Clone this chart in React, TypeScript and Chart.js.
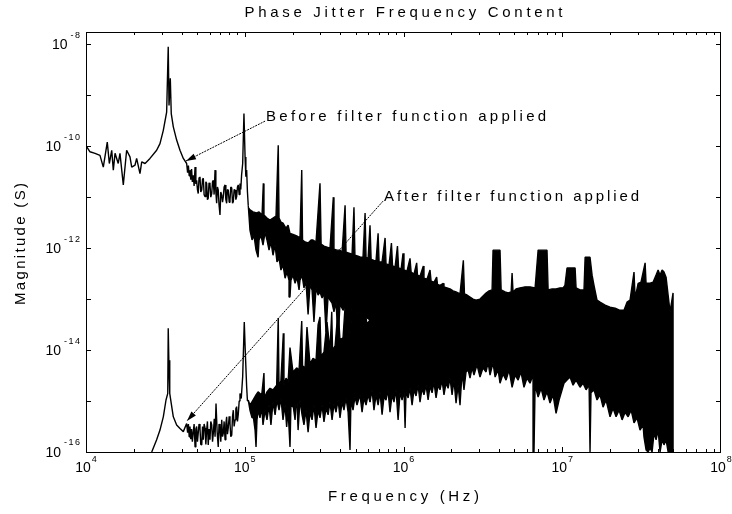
import { useEffect, useRef } from "react";
import { Chart, registerables } from "chart.js";

Chart.register(...registerables);

// All values are [log10(frequency in Hz), log10(magnitude in s)].
const beforeLowTrace: [number, number][] = [
  [4.004, -10.01], [4.025, -10.11], [4.057, -10.14], [4.088, -10.18], [4.109, -10.41], [4.134, -9.92],
  [4.147, -10.34], [4.162, -10.08], [4.172, -10.47], [4.183, -10.14], [4.203, -10.34], [4.214, -10.14],
  [4.235, -10.76], [4.256, -10.08], [4.277, -10.21], [4.288, -10.41], [4.309, -10.37], [4.319, -10.24],
  [4.34, -10.54], [4.351, -10.31], [4.372, -10.34], [4.403, -10.24], [4.445, -10.08], [4.466, -9.95],
  [4.487, -9.69], [4.508, -9.33], [4.518, -8.05], [4.523, -9.2], [4.531, -8.67], [4.537, -9.36],
  [4.55, -9.62], [4.571, -9.88], [4.592, -10.08], [4.613, -10.24], [4.634, -10.34], [4.64, -10.52],
  [4.645, -10.38], [4.65, -10.58], [4.655, -10.47], [4.66, -10.66], [4.665, -10.45], [4.67, -10.7],
  [4.676, -10.57], [4.681, -10.78], [4.687, -10.41], [4.692, -10.74], [4.697, -10.67], [4.702, -10.85],
  [4.707, -10.93], [4.712, -10.62], [4.718, -10.6], [4.723, -10.9], [4.729, -10.86], [4.734, -10.65],
  [4.739, -10.63], [4.744, -10.95], [4.75, -10.99], [4.755, -10.7], [4.76, -10.73], [4.765, -11.05],
  [4.77, -11.02], [4.775, -10.72], [4.781, -10.76], [4.786, -11.0], [4.792, -10.93], [4.797, -10.7],
  [4.802, -10.67], [4.807, -10.95], [4.813, -10.47], [4.818, -10.9], [4.823, -11.12], [4.828, -10.8],
  [4.833, -10.86], [4.838, -11.15], [4.844, -11.35], [4.849, -10.9], [4.855, -10.96], [4.86, -11.1],
  [4.865, -10.99], [4.87, -10.8], [4.876, -10.76], [4.881, -11.05], [4.886, -11.12], [4.891, -10.85],
  [4.896, -10.86], [4.902, -11.1], [4.907, -11.06], [4.912, -10.8], [4.918, -10.82], [4.923, -11.12],
  [4.928, -11.09], [4.933, -10.85], [4.939, -10.86], [4.944, -11.05], [4.949, -10.99], [4.954, -10.8],
  [4.959, -10.76], [4.965, -10.95], [4.97, -10.73], [4.975, -10.85], [4.98, -10.57], [4.987, -10.34],
  [4.995, -9.36], [5.002, -10.21], [5.007, -10.6], [5.012, -10.47], [5.017, -10.9], [5.022, -11.16],
];

const afterLowTrace: [number, number][] = [
  [4.414, -16.0], [4.445, -15.76], [4.466, -15.57], [4.487, -15.31], [4.504, -14.98], [4.515, -14.85],
  [4.518, -13.57], [4.523, -14.39], [4.526, -14.2], [4.529, -14.85], [4.54, -15.11], [4.55, -15.31],
  [4.571, -15.47], [4.592, -15.54], [4.613, -15.6], [4.634, -15.44], [4.64, -15.62], [4.645, -15.45],
  [4.65, -15.7], [4.655, -15.5], [4.66, -15.75], [4.665, -15.55], [4.67, -15.8], [4.676, -15.6],
  [4.681, -15.45], [4.687, -15.9], [4.692, -15.55], [4.697, -15.5], [4.702, -15.8], [4.707, -15.63],
  [4.712, -15.45], [4.718, -15.54], [4.723, -15.85], [4.729, -15.86], [4.734, -15.5], [4.739, -15.76],
  [4.744, -15.45], [4.75, -15.53], [4.755, -15.85], [4.76, -15.57], [4.765, -15.4], [4.77, -15.86],
  [4.775, -15.55], [4.781, -15.76], [4.786, -15.4], [4.792, -15.47], [4.797, -15.8], [4.802, -15.63],
  [4.808, -15.35], [4.813, -15.7], [4.819, -15.05], [4.826, -15.6], [4.833, -15.9], [4.838, -15.45],
  [4.844, -15.57], [4.849, -15.8], [4.855, -15.37], [4.86, -15.7], [4.865, -15.63], [4.87, -15.4],
  [4.876, -15.76], [4.881, -15.45], [4.886, -15.31], [4.891, -15.65], [4.896, -15.53], [4.902, -15.3],
  [4.907, -15.44], [4.912, -15.7], [4.918, -15.67], [4.923, -15.3], [4.928, -15.18], [4.933, -15.5],
  [4.939, -15.37], [4.944, -15.15], [4.949, -15.11], [4.954, -15.4], [4.959, -15.27], [4.965, -15.0],
  [4.97, -14.85], [4.978, -14.95], [4.987, -14.52], [4.997, -13.45], [5.003, -14.0], [5.012, -14.72],
  [5.017, -15.0], [5.022, -14.98],
];

const beforeBandTop: [number, number][] = [
  [5.022, -11.2], [5.033, -11.25], [5.052, -11.29], [5.075, -11.31], [5.09, -11.29], [5.109, -11.35],
  [5.117, -10.73], [5.121, -11.35], [5.14, -11.41], [5.159, -11.45], [5.178, -11.41], [5.197, -11.37],
  [5.211, -9.98], [5.216, -11.41], [5.228, -11.49], [5.241, -11.51], [5.26, -11.61], [5.273, -11.55],
  [5.285, -11.71], [5.304, -11.73], [5.327, -11.76], [5.348, -11.8], [5.359, -10.47], [5.364, -11.84],
  [5.38, -11.88], [5.399, -11.9], [5.418, -11.84], [5.43, -11.84], [5.449, -11.88], [5.474, -10.73],
  [5.481, -11.92], [5.499, -11.96], [5.518, -11.98], [5.537, -12.0], [5.558, -11.0], [5.562, -12.02],
  [5.581, -12.04], [5.6, -12.04], [5.613, -12.08], [5.632, -11.16], [5.638, -12.08], [5.657, -12.1],
  [5.676, -12.12], [5.688, -11.2], [5.694, -12.14], [5.714, -12.16], [5.733, -12.18], [5.745, -12.18],
  [5.758, -11.31], [5.764, -12.18], [5.777, -12.2], [5.789, -11.55], [5.796, -12.22], [5.814, -12.24],
  [5.827, -12.25], [5.84, -11.71], [5.846, -12.27], [5.865, -12.27], [5.884, -11.8], [5.89, -12.31],
  [5.909, -12.33], [5.924, -11.9], [5.931, -12.35], [5.947, -12.37], [5.962, -11.96], [5.969, -12.39],
  [5.985, -12.41], [5.997, -12.1], [6.003, -12.43], [6.022, -12.45], [6.041, -12.2], [6.048, -12.47],
  [6.066, -12.51], [6.083, -12.29], [6.088, -12.53], [6.104, -12.55], [6.125, -12.35], [6.129, -12.59],
  [6.148, -12.61], [6.167, -12.43], [6.174, -12.65], [6.192, -12.67], [6.209, -12.57], [6.214, -12.71],
  [6.23, -12.73], [6.251, -12.69], [6.255, -12.76], [6.274, -12.78], [6.293, -12.8], [6.312, -12.84],
  [6.331, -12.86], [6.356, -12.9], [6.377, -12.24], [6.384, -12.9], [6.4, -12.92], [6.419, -12.96],
  [6.438, -13.0], [6.457, -13.02], [6.482, -13.0], [6.501, -12.94], [6.52, -12.88], [6.539, -12.84],
  [6.558, -12.82], [6.564, -12.04], [6.608, -12.04], [6.615, -12.82], [6.64, -12.86], [6.659, -12.88],
  [6.678, -12.86], [6.684, -12.49], [6.69, -12.86], [6.709, -12.8], [6.734, -12.78], [6.766, -12.76],
  [6.797, -12.76], [6.829, -12.78], [6.848, -12.04], [6.904, -12.04], [6.911, -12.82], [6.936, -12.8],
  [6.961, -12.8], [6.986, -12.78], [7.005, -12.78], [7.017, -12.73], [7.03, -12.39], [7.081, -12.39],
  [7.087, -12.78], [7.112, -12.82], [7.137, -12.82], [7.144, -12.18], [7.175, -12.18], [7.188, -12.53],
  [7.2, -12.73], [7.219, -13.02], [7.238, -13.06], [7.27, -13.12], [7.301, -13.16], [7.333, -13.18],
  [7.364, -13.22], [7.389, -13.22], [7.408, -13.06], [7.427, -13.02], [7.452, -12.47], [7.459, -12.98],
  [7.478, -12.69], [7.496, -12.67], [7.522, -12.29], [7.528, -12.69], [7.553, -12.69], [7.572, -12.67],
  [7.591, -12.53], [7.604, -12.43], [7.616, -12.53], [7.629, -12.43], [7.641, -12.47], [7.654, -12.57],
  [7.679, -13.25], [7.698, -12.88],
];

const beforeBandBottom: [number, number][] = [
  [5.022, -11.16], [5.033, -11.65], [5.046, -11.84], [5.058, -11.75], [5.071, -12.04], [5.084, -12.18],
  [5.09, -11.84], [5.102, -11.75], [5.115, -11.94], [5.128, -11.69], [5.14, -11.84], [5.153, -12.04],
  [5.165, -11.88], [5.178, -12.14], [5.191, -11.94], [5.203, -12.27], [5.216, -12.2], [5.228, -12.43],
  [5.241, -12.33], [5.254, -12.59], [5.266, -12.47], [5.279, -12.63], [5.285, -12.96], [5.291, -12.63],
  [5.304, -12.53], [5.317, -12.69], [5.329, -12.57], [5.342, -12.82], [5.348, -12.63], [5.361, -12.53],
  [5.373, -12.78], [5.386, -12.67], [5.399, -13.3], [5.411, -12.73], [5.424, -12.82], [5.436, -13.45],
  [5.449, -12.78], [5.462, -12.92], [5.474, -12.86], [5.487, -12.98], [5.499, -12.88], [5.512, -13.65],
  [5.525, -12.94], [5.537, -13.02], [5.55, -13.08], [5.562, -13.25], [5.575, -13.06], [5.588, -13.8],
  [5.6, -13.1], [5.619, -13.22], [5.638, -13.12], [5.657, -13.85], [5.676, -13.16], [5.694, -13.9],
  [5.714, -13.22], [5.733, -13.75], [5.751, -13.25], [5.77, -13.37], [5.789, -13.41],
];

const afterBandTop: [number, number][] = [
  [5.022, -14.98], [5.033, -15.08], [5.052, -14.98], [5.071, -14.88], [5.084, -14.82], [5.107, -14.88],
  [5.121, -14.45], [5.124, -14.94], [5.14, -14.82], [5.159, -14.75], [5.178, -14.78], [5.201, -14.69],
  [5.211, -13.37], [5.216, -14.75], [5.228, -14.59], [5.243, -13.67], [5.247, -14.69], [5.26, -14.55],
  [5.273, -14.63], [5.285, -13.95], [5.304, -14.43], [5.327, -14.35], [5.342, -14.39], [5.359, -13.43],
  [5.364, -14.31], [5.38, -14.35], [5.392, -13.55], [5.411, -14.27], [5.43, -14.16], [5.449, -14.2],
  [5.462, -13.5], [5.474, -13.35], [5.481, -14.12], [5.499, -14.04], [5.518, -13.45], [5.537, -14.0],
  [5.548, -13.25], [5.553, -14.0], [5.569, -13.92], [5.588, -13.2], [5.6, -13.8], [5.619, -13.76],
  [5.642, -12.67], [5.647, -13.73], [5.663, -13.69], [5.682, -13.05], [5.701, -13.61], [5.726, -13.02],
  [5.733, -13.57], [5.751, -13.1], [5.77, -13.49], [5.789, -13.41],
];

const afterBandBottom: [number, number][] = [
  [5.022, -14.98], [5.033, -15.18], [5.046, -15.33], [5.054, -15.31], [5.065, -15.57], [5.071, -15.9],
  [5.077, -15.37], [5.085, -15.18], [5.096, -15.33], [5.107, -15.12], [5.115, -15.47], [5.128, -15.18],
  [5.14, -15.37], [5.153, -15.08], [5.165, -15.47], [5.178, -15.02], [5.191, -15.27], [5.203, -14.98],
  [5.216, -15.18], [5.228, -14.94], [5.241, -15.37], [5.254, -15.08], [5.264, -15.51], [5.273, -15.18],
  [5.285, -15.9], [5.291, -15.08], [5.306, -15.12], [5.317, -15.37], [5.327, -14.84], [5.336, -15.57],
  [5.348, -14.98], [5.361, -15.27], [5.373, -15.47], [5.386, -15.18], [5.399, -15.61], [5.411, -15.22],
  [5.424, -15.37], [5.436, -15.08], [5.449, -15.53], [5.462, -15.18], [5.474, -15.33], [5.487, -15.08],
  [5.499, -15.41], [5.512, -15.14], [5.525, -15.27], [5.537, -15.02], [5.55, -15.37], [5.562, -15.06],
  [5.575, -15.22], [5.588, -14.98], [5.6, -15.33], [5.613, -15.02], [5.625, -15.18], [5.638, -14.94],
  [5.651, -15.22], [5.663, -15.96], [5.669, -14.98], [5.682, -15.18], [5.694, -14.92], [5.707, -15.08],
  [5.726, -14.88], [5.739, -15.22], [5.751, -14.94], [5.764, -15.08], [5.777, -14.88], [5.789, -15.02],
];

const mergedBandBottom: [number, number][] = [
  [5.789, -15.02], [5.802, -14.78], [5.814, -15.18], [5.827, -14.88], [5.84, -15.08], [5.852, -14.82],
  [5.865, -15.27], [5.877, -14.92], [5.89, -14.98], [5.902, -14.78], [5.915, -15.22], [5.928, -14.88],
  [5.94, -15.02], [5.953, -14.78], [5.966, -15.37], [5.978, -14.84], [5.991, -14.98], [6.003, -14.78],
  [6.01, -15.53], [6.016, -14.82], [6.029, -14.94], [6.041, -14.75], [6.054, -15.08], [6.066, -14.78],
  [6.079, -14.9], [6.092, -14.69], [6.104, -15.02], [6.117, -14.75], [6.129, -14.88], [6.142, -14.69],
  [6.155, -14.98], [6.167, -14.71], [6.18, -14.84], [6.192, -14.63], [6.205, -14.94], [6.218, -14.69],
  [6.23, -14.78], [6.243, -14.59], [6.255, -14.88], [6.268, -14.65], [6.281, -14.75], [6.293, -14.55],
  [6.306, -14.88], [6.318, -14.59], [6.331, -15.04], [6.344, -14.69], [6.356, -15.08], [6.369, -14.43],
  [6.381, -14.78], [6.394, -14.43], [6.407, -14.39], [6.419, -14.55], [6.432, -14.35], [6.444, -14.49],
  [6.463, -14.29], [6.482, -14.53], [6.501, -14.35], [6.52, -14.43], [6.533, -14.24], [6.545, -14.49],
  [6.564, -14.25], [6.577, -14.53], [6.596, -14.39], [6.608, -14.65], [6.627, -14.47], [6.646, -14.59],
  [6.665, -14.39], [6.684, -14.73], [6.703, -14.49], [6.722, -14.59], [6.74, -14.43], [6.759, -14.73],
  [6.778, -14.55], [6.797, -14.65], [6.816, -14.49], [6.822, -16.0], [6.829, -14.69], [6.848, -14.92],
  [6.867, -14.75], [6.885, -14.98], [6.904, -14.82], [6.923, -15.04], [6.942, -14.88], [6.961, -15.24],
  [6.98, -14.98], [6.999, -14.78], [7.011, -14.65], [7.03, -14.59], [7.049, -14.53], [7.068, -14.69],
  [7.087, -14.59], [7.112, -14.73], [7.131, -14.65], [7.15, -14.78], [7.169, -14.69], [7.175, -16.0],
  [7.181, -14.84], [7.2, -14.78], [7.219, -14.98], [7.238, -14.88], [7.257, -15.12], [7.276, -14.98],
  [7.301, -15.31], [7.32, -15.14], [7.339, -15.31], [7.358, -15.18], [7.377, -15.37], [7.396, -15.22],
  [7.415, -15.31], [7.434, -15.18], [7.452, -15.43], [7.471, -15.33], [7.49, -15.57], [7.509, -15.47],
  [7.515, -15.71], [7.528, -15.96], [7.541, -16.0], [7.553, -15.92], [7.566, -16.0], [7.578, -15.63],
  [7.591, -15.76], [7.604, -15.57], [7.616, -16.0], [7.629, -15.76], [7.641, -15.86], [7.654, -15.76],
  [7.667, -16.0], [7.698, -16.0],
];

// Axis ranges and ticks (log10 units)
const xRangeExp = [4, 8];
const yRangeExp = [-16, -7.76];
const xDecadeExps = [4, 5, 6, 7];
const xMinorMultipliers = [2, 3, 4, 5, 6, 7, 8, 9];
const xLabelExps = [4, 5, 6, 7, 8];
const yTickExps = [-16, -15, -14, -13, -12, -11, -10, -9, -8];
const yLabelExps = [-16, -14, -12, -10, -8];

const titleText = "Phase Jitter Frequency Content";
const xTitleText = "Frequency (Hz)";
const yTitleText = "Magnitude (S)";

// Annotations: label anchor and arrow tip in [log10 f, log10 m]
const annotationTexts = ["Before filter function applied", "After filter function applied"];
const annotationLabelAt: [number, number][] = [[5.128, -9.43], [5.871, -11.0]];
const annotationTipAt: [number, number][] = [[4.63, -10.29], [4.636, -15.39]];

const FONT_FAMILY = '"Liberation Sans", Arial, Helvetica, sans-serif';

const toPoints = (arr: [number, number][]) => arr.map(([f, m]) => ({ x: 10 ** f, y: 10 ** m }));

function drawSpaced(ctx: CanvasRenderingContext2D, text: string, x: number, y: number, width: number, align: "left" | "center") {
  const chars = Array.from(text);
  const natural = chars.reduce((s, c) => s + ctx.measureText(c).width, 0);
  const gap = chars.length > 1 ? (width - natural) / (chars.length - 1) : 0;
  let cx = align === "center" ? x - width / 2 : x;
  ctx.textAlign = "left";
  for (const c of chars) {
    ctx.fillText(c, cx, y);
    cx += ctx.measureText(c).width + gap;
  }
}

const decorPlugin = {
  id: "matlabDecor",
  afterDraw(chart: any) {
    const ctx: CanvasRenderingContext2D = chart.ctx;
    const xs = chart.scales.x;
    const ys = chart.scales.y;
    const { left, right, top, bottom } = chart.chartArea;
    const L = Math.round(left), R = Math.round(right), T = Math.round(top), B = Math.round(bottom);
    ctx.save();
    ctx.strokeStyle = "#000";
    ctx.fillStyle = "#000";
    ctx.lineWidth = 1;
    ctx.setLineDash([]);
    // frame
    ctx.strokeRect(L + 0.5, T + 0.5, R - L - 1, B - T);

    // x ticks (inward, bottom and top)
    ctx.beginPath();
    const xTick = (v: number, len: number) => {
      const px = Math.round(xs.getPixelForValue(v)) + 0.5;
      ctx.moveTo(px, B); ctx.lineTo(px, B - len);
      ctx.moveTo(px, T); ctx.lineTo(px, T + len);
    };
    for (const e of xDecadeExps) {
      xTick(10 ** e, 5);
      for (const k of xMinorMultipliers) xTick(k * 10 ** e, 3);
    }
    // y ticks (inward, left and right)
    for (const e of yTickExps) {
      const py = Math.round(ys.getPixelForValue(10 ** e)) + 0.5;
      ctx.moveTo(L, py); ctx.lineTo(L + 5, py);
      ctx.moveTo(R, py); ctx.lineTo(R - 5, py);
    }
    ctx.stroke();

    // tick labels
    ctx.textBaseline = "middle";
    for (const e of xLabelExps) {
      const px = xs.getPixelForValue(10 ** e);
      ctx.font = `14px ${FONT_FAMILY}`;
      const w10 = ctx.measureText("10").width;
      ctx.font = `9px ${FONT_FAMILY}`;
      const expStr = String(e);
      const wExp = ctx.measureText(expStr).width;
      const start = px - (w10 + 1 + wExp) / 2;
      ctx.font = `14px ${FONT_FAMILY}`;
      ctx.textAlign = "left";
      ctx.fillText("10", start, B + 16);
      ctx.font = `9px ${FONT_FAMILY}`;
      ctx.fillText(expStr, start + w10 + 1, B + 8);
    }
    for (const e of yLabelExps) {
      const py = ys.getPixelForValue(10 ** e);
      ctx.font = `9px ${FONT_FAMILY}`;
      const expStr = String(e);
      const wExp = ctx.measureText(expStr).width + (expStr.length - 1) * 1.5;
      const expX = L - 6 - wExp;
      drawSpaced(ctx, expStr, expX, py - 9, wExp, "left");
      ctx.font = `14px ${FONT_FAMILY}`;
      ctx.textAlign = "right";
      ctx.fillText("10", expX - 3, py + 1);
    }

    // titles
    ctx.font = `15px ${FONT_FAMILY}`;
    ctx.textBaseline = "middle";
    drawSpaced(ctx, titleText, (L + R) / 2, T - 19, 318, "center");
    drawSpaced(ctx, xTitleText, (L + R) / 2, B + 45, 151, "center");
    ctx.save();
    ctx.translate(21, (T + B) / 2 + 2);
    ctx.rotate(-Math.PI / 2);
    drawSpaced(ctx, yTitleText, 0, 0, 122, "center");
    ctx.restore();

    // annotations
    const annWidths = [280, 255];
    annotationTexts.forEach((txt, i) => {
      const lx = xs.getPixelForValue(10 ** annotationLabelAt[i][0]);
      const ly = ys.getPixelForValue(10 ** annotationLabelAt[i][1]);
      const tx = xs.getPixelForValue(10 ** annotationTipAt[i][0]);
      const ty = ys.getPixelForValue(10 ** annotationTipAt[i][1]);
      const sx = lx, sy = ly + 4;
      ctx.setLineDash([2, 1]);
      ctx.beginPath();
      ctx.moveTo(sx, sy);
      ctx.lineTo(tx, ty);
      ctx.stroke();
      ctx.setLineDash([]);
      const ang = Math.atan2(ty - sy, tx - sx);
      const len = 10, hw = 3;
      ctx.beginPath();
      ctx.moveTo(tx, ty);
      ctx.lineTo(tx - len * Math.cos(ang) + hw * Math.sin(ang), ty - len * Math.sin(ang) - hw * Math.cos(ang));
      ctx.lineTo(tx - len * Math.cos(ang) - hw * Math.sin(ang), ty - len * Math.sin(ang) + hw * Math.cos(ang));
      ctx.closePath();
      ctx.fill();
      ctx.font = `15px ${FONT_FAMILY}`;
      ctx.textBaseline = "middle";
      drawSpaced(ctx, txt, lx + 1, ly, annWidths[i], "left");
    });
    ctx.restore();
  },
};

export default function App() {
  const canvasRef = useRef<HTMLCanvasElement | null>(null);

  useEffect(() => {
    const canvas = canvasRef.current;
    if (!canvas) return;
    const bandA = [
      ...toPoints(beforeBandTop),
      ...toPoints(mergedBandBottom).reverse(),
      ...toPoints(beforeBandBottom).reverse(),
    ];
    const bandB = [...toPoints(afterBandTop), ...toPoints(afterBandBottom).reverse()];
    const common = {
      showLine: true,
      borderColor: "#000",
      borderWidth: 1.4,
      pointRadius: 0,
      pointHoverRadius: 0,
      tension: 0,
      borderJoinStyle: "bevel" as const,
    };
    const chart = new Chart(canvas, {
      type: "scatter",
      data: {
        datasets: [
          { ...common, label: "Before filter", data: toPoints(beforeLowTrace), fill: false },
          { ...common, label: "After filter", data: toPoints(afterLowTrace), fill: false },
          { ...common, label: "Before band", data: bandA, fill: "shape", backgroundColor: "#000" },
          { ...common, label: "After band", data: bandB, fill: "shape", backgroundColor: "#000" },
        ],
      },
      options: {
        animation: false,
        responsive: false,
        maintainAspectRatio: false,
        devicePixelRatio: 1,
        events: [],
        layout: { padding: { left: 86, right: 11, top: 32, bottom: 62 } },
        plugins: {
          legend: { display: false },
          title: { display: false },
          tooltip: { enabled: false },
        },
        scales: {
          x: { type: "logarithmic", min: 10 ** xRangeExp[0], max: 10 ** xRangeExp[1], display: false, bounds: "data" },
          y: { type: "logarithmic", min: 10 ** yRangeExp[0], max: 10 ** yRangeExp[1], display: false, bounds: "data" },
        },
      },
      plugins: [decorPlugin],
    } as any);
    return () => chart.destroy();
  }, []);

  return (
    <div style={{ position: "fixed", left: 0, top: 0, width: 732, height: 514, background: "#fff" }}>
      <canvas ref={canvasRef} width={732} height={514} style={{ display: "block", width: 732, height: 514 }} />
    </div>
  );
}
